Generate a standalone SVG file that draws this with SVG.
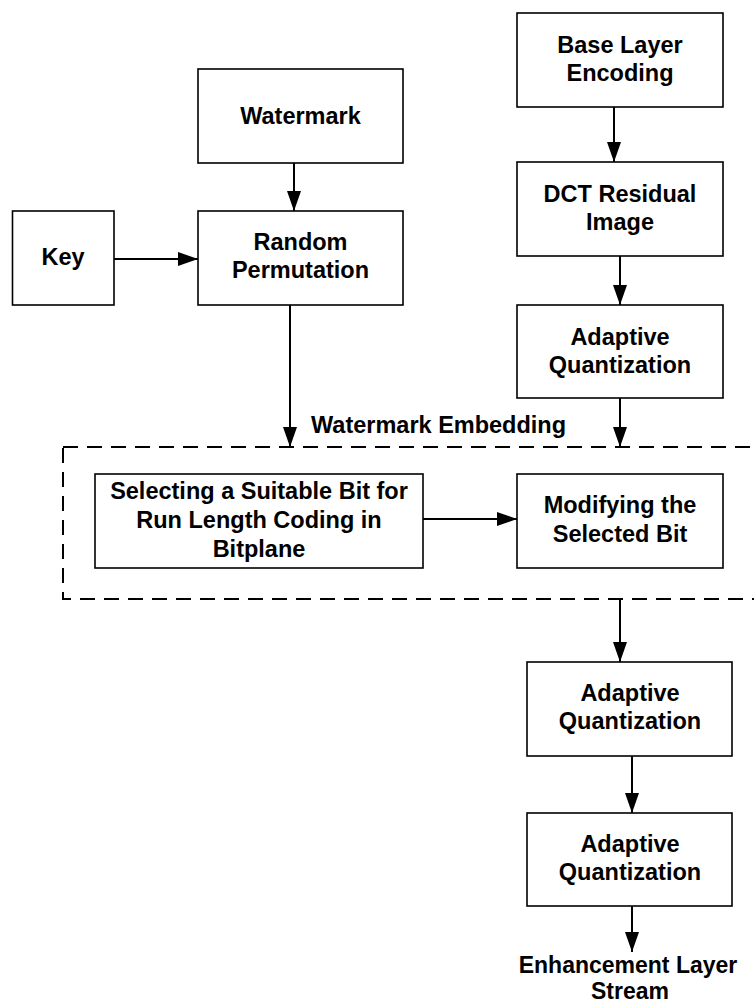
<svg xmlns="http://www.w3.org/2000/svg" width="754" height="1002" viewBox="0 0 754 1002">
<style>
.box{fill:#fff;stroke:#000;stroke-width:1.6}
.t{font-family:"Liberation Sans",Arial,sans-serif;font-weight:bold;font-size:23.5px;fill:#000;text-anchor:middle}
.c{stroke:#000;stroke-width:2;fill:none;marker-end:url(#ah)}
.dash{fill:none;stroke:#000;stroke-width:2;stroke-dasharray:15 9}
</style>
<defs>
<marker id="ah" markerUnits="userSpaceOnUse" markerWidth="20" markerHeight="14" refX="20" refY="7" orient="auto">
<path d="M0,0 L20,7 L0,14 z" fill="#000"/>
</marker>
</defs>
<rect width="754" height="1002" fill="#fff"/>
<g id="embedding-region">
<rect class="dash" x="63" y="447" width="720" height="152"/>
<text class="t" x="311" y="433" style="text-anchor:start">Watermark Embedding</text>
</g>
<g id="connectors">
<line class="c" x1="614" y1="107" x2="614" y2="162"/>
<line class="c" x1="620" y1="256" x2="620" y2="305"/>
<line class="c" x1="620" y1="398" x2="620" y2="447"/>
<line class="c" x1="294" y1="163" x2="294" y2="211"/>
<line class="c" x1="114" y1="259" x2="198" y2="259"/>
<line class="c" x1="290" y1="303" x2="290" y2="447"/>
<line class="c" x1="423" y1="519" x2="517" y2="519"/>
<line class="c" x1="620" y1="599" x2="620" y2="662"/>
<line class="c" x1="632" y1="756" x2="632" y2="813"/>
<line class="c" x1="632" y1="906" x2="632" y2="952"/>
</g>
<g id="base-layer">
<rect class="box" x="517" y="13" width="206" height="94"/>
<text class="t" x="620" y="53">Base Layer</text>
<text class="t" x="620" y="81">Encoding</text>
</g>
<g id="dct-residual">
<rect class="box" x="517" y="162" width="206" height="94"/>
<text class="t" x="620" y="202">DCT Residual</text>
<text class="t" x="620" y="230">Image</text>
</g>
<g id="adaptive-quant-1">
<rect class="box" x="517" y="305" width="206" height="93"/>
<text class="t" x="620" y="345">Adaptive</text>
<text class="t" x="620" y="373">Quantization</text>
</g>
<g id="watermark">
<rect class="box" x="198" y="69" width="205" height="94"/>
<text class="t" x="300.5" y="124">Watermark</text>
</g>
<g id="random-permutation">
<rect class="box" x="198" y="211" width="205" height="94"/>
<text class="t" x="300.5" y="250">Random</text>
<text class="t" x="300.5" y="278">Permutation</text>
</g>
<g id="key">
<rect class="box" x="12.5" y="211" width="101.5" height="94"/>
<text class="t" x="63" y="265">Key</text>
</g>
<g id="selecting">
<rect class="box" x="95" y="474" width="328" height="94"/>
<text class="t" x="259" y="499">Selecting a Suitable Bit for</text>
<text class="t" x="259" y="528">Run Length Coding in</text>
<text class="t" x="259" y="557">Bitplane</text>
</g>
<g id="modifying">
<rect class="box" x="517" y="474" width="206" height="94"/>
<text class="t" x="620" y="513">Modifying the</text>
<text class="t" x="620" y="542">Selected Bit</text>
</g>
<g id="adaptive-quant-2">
<rect class="box" x="527" y="662" width="205" height="94"/>
<text class="t" x="630" y="701">Adaptive</text>
<text class="t" x="630" y="729">Quantization</text>
</g>
<g id="adaptive-quant-3">
<rect class="box" x="527" y="813" width="205" height="93"/>
<text class="t" x="630" y="852">Adaptive</text>
<text class="t" x="630" y="880">Quantization</text>
</g>
<g id="enhancement-output">
<text class="t" x="628" y="973" style="font-size:23px">Enhancement Layer</text>
<text class="t" x="630" y="999" style="font-size:23px">Stream</text>
</g>
</svg>
